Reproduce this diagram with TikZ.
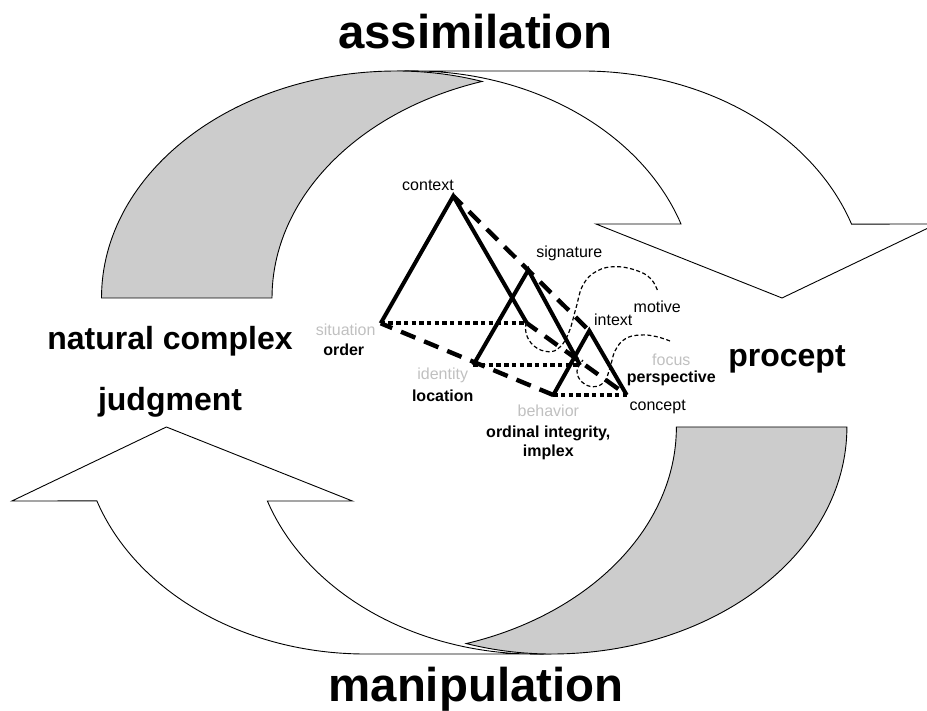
\documentclass[tikz,border=0pt]{standalone}
\usepackage{fontspec}
\setmainfont{Liberation Sans}
\definecolor{shade}{HTML}{CCCCCC}
\definecolor{faint}{HTML}{C0C0C0}
\tikzset{
    outline/.style={draw=black, line width=0.9pt, line join=miter},
    solidedge/.style={line width=4pt, line join=miter},
    dashedge/.style={line width=4.4pt, dash pattern=on 15.5pt off 9.5pt, dash phase=3pt},
    dotedge/.style={line width=4.4pt, dash pattern=on 4.4pt off 3.3pt},
    thincurve/.style={line width=1.2pt, dash pattern=on 4pt off 2.5pt},
    small/.style={anchor=base, inner sep=0pt, font=\fontsize{16}{16}\selectfont},
    smallbold/.style={small, font=\fontsize{16}{16}\selectfont\bfseries},
    smallgrey/.style={small, text=faint},
    medium/.style={anchor=base, inner sep=0pt, font=\fontsize{32}{32}\selectfont\bfseries},
    large/.style={anchor=base, inner sep=0pt, font=\fontsize{47.4}{48}\selectfont\bfseries}
}
\begin{document}
\begin{tikzpicture}[x=1pt, y=-1pt]
\clip (0,0) rectangle (927,711);
% the two arrows are the same shape, half a turn apart
\foreach \turn in {0,180} {
\begin{scope}[rotate around={\turn:(474.2,362.5)}]
    \draw[outline, fill=white] (397,71) -- (583,71)
        arc[start angle=270, end angle=341, x radius=284, y radius=227]
        -- (936.5,224) -- (782,298) -- (596,224) -- (681,224)
        arc[start angle=341, end angle=270, x radius=284, y radius=227] -- cycle;
    \draw[outline, fill=shade] (101.5,298)
        arc[start angle=180, end angle=270, x radius=295.5, y radius=227]
        arc[start angle=270, end angle=287.44, x radius=284, y radius=227]
        arc[start angle=252.56, end angle=180, x radius=300, y radius=227] -- cycle;
\end{scope}
}

\coordinate (context) at (453.3,196);
\coordinate (situation) at (380.7,323.3);
\coordinate (contextend) at (527,323.3);
\coordinate (signature) at (528.3,270);
\coordinate (identity) at (473.3,365);
\coordinate (signatureend) at (580,365);
\coordinate (intext) at (589.3,330.7);
\coordinate (behavior) at (553.3,395);
\coordinate (concept) at (626.7,395);

% triangles
\draw[solidedge] (contextend) -- (context) -- (situation);
\draw[solidedge] (signatureend) -- (signature) -- (identity);
\draw[solidedge] (behavior) -- (intext) -- (concept);
\draw[dotedge] (situation) -- (contextend);
\draw[dotedge] (identity) -- (signatureend);
\draw[dotedge] (behavior) -- (concept);
\draw[dashedge] (context) -- (intext);
\draw[dashedge] (situation) -- (behavior);
\draw[dashedge] (contextend) -- (concept);

% thin curves
\draw[thincurve] plot[smooth, tension=0.7] coordinates {(657.3,290) (651,279) (638,271) (616.7,266.7) (597,271) (583,285) (576,308) (569,332) (560,347) (548.3,351.7) (534,346) (526,333) (526.7,320)};
\draw[thincurve] plot[smooth, tension=0.7] coordinates {(670,341) (656,336.5) (640,335) (625,339) (615,351) (610,368) (604,382) (593.3,386.7) (582,382) (577,371) (583,360)};

\node[small] (contextlabel) at (428,190.7) {context};
\node[small] (signaturelabel) at (569.3,257.3) {signature};
\node[small] (motivelabel) at (657.3,312.3) {motive};
\node[small] (intextlabel) at (613.3,325.7) {intext};
\node[small] (conceptlabel) at (657.7,410.3) {concept};
\node[smallgrey] (focuslabel) at (671.3,365.3) {focus};
\node[smallbold] (perspectivelabel) at (671.3,382.3) {perspective};
\node[smallgrey] (behaviorlabel) at (548.3,416.3) {behavior};
\node[smallbold] (ordinallabel) at (548.3,437.3) {ordinal integrity,};
\node[smallbold] (implexlabel) at (548.3,456) {implex};
\node[smallgrey] (situationlabel) at (345.7,335.3) {situation};
\node[smallbold] (orderlabel) at (343.7,356) {order};
\node[smallgrey] (identitylabel) at (442.7,380) {identity};
\node[smallbold] (locationlabel) at (442.7,402) {location};

\node[medium] (complexlabel) at (170,350) {natural complex};
\node[medium] (judgmentlabel) at (170,410) {judgment};
\node[medium] (proceptlabel) at (787,367) {procept};
\node[large] (assimilationlabel) at (475,48.5) {assimilation};
\node[large] (manipulationlabel) at (476,701) {manipulation};
\end{tikzpicture}
\end{document}
